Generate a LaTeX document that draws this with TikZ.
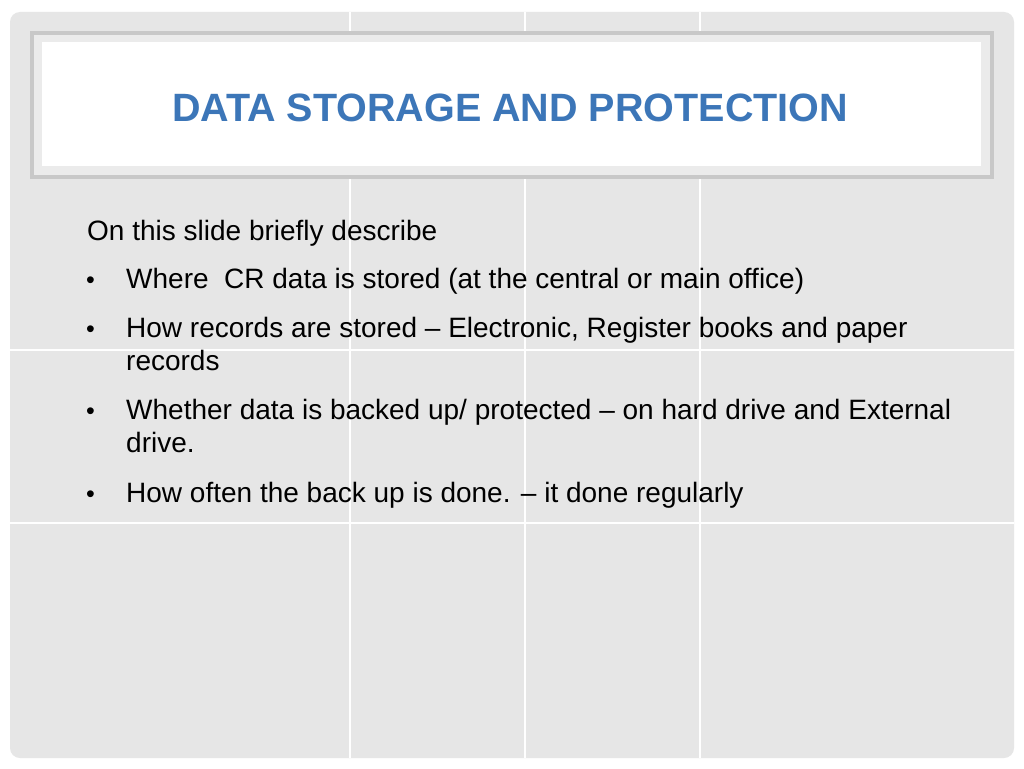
\documentclass[tikz,border=0pt]{standalone}
\usepackage{fontspec}
\setmainfont{Liberation Sans}
\definecolor{bg}{HTML}{E6E6E6}
\definecolor{tblue}{HTML}{3C76B8}
\definecolor{frame}{HTML}{C8C8C8}
\begin{document}
\begin{tikzpicture}[x=1pt,y=-1pt,
  body/.style={anchor=base west,font=\fontsize{28}{32}\selectfont,inner sep=0},
  bul/.style={anchor=base west,font=\fontsize{25}{30}\selectfont,inner sep=0}]
\useasboundingbox (0,0) rectangle (1024,768);
\fill[white] (0,0) rectangle (1024,768);
\fill[bg,rounded corners=10] (10,12) rectangle (1014,758);
\foreach \x in {350,525,700} \draw[white,line width=1.2] (\x,12) -- (\x,758);
\foreach \y in {350,523} \draw[white,line width=1.2] (10,\y) -- (1014,\y);
\fill[frame] (30,31) rectangle (994,179);
\fill[bg!80!white] (34,35) rectangle (990,175);
\fill[white] (42,42) rectangle (981,166);
\node[font=\bfseries\fontsize{39.5}{42}\selectfont,text=tblue,anchor=base] (title) at (510,121) {DATA STORAGE AND PROTECTION};
\node[body] (intro) at (87,240) {On this slide briefly describe};
\foreach \n/\y in {a/288,b/337,c/419,d/502} \node[bul] (b\n) at (86,\y) {•};
\node[body] (t1) at (126,288) {Where\ \ CR data is stored (at the central or main office)};
\node[body] (t2) at (126,337) {How records are stored – Electronic, Register books and paper};
\node[body] (t2b) at (126,370) {records};
\node[body] (t3) at (126,419) {Whether data is backed up/ protected – on hard drive and External};
\node[body] (t3b) at (126,452) {drive.};
\node[body] (t4) at (126,502) {How often the back up is done. – it done regularly};
\end{tikzpicture}
\end{document}
